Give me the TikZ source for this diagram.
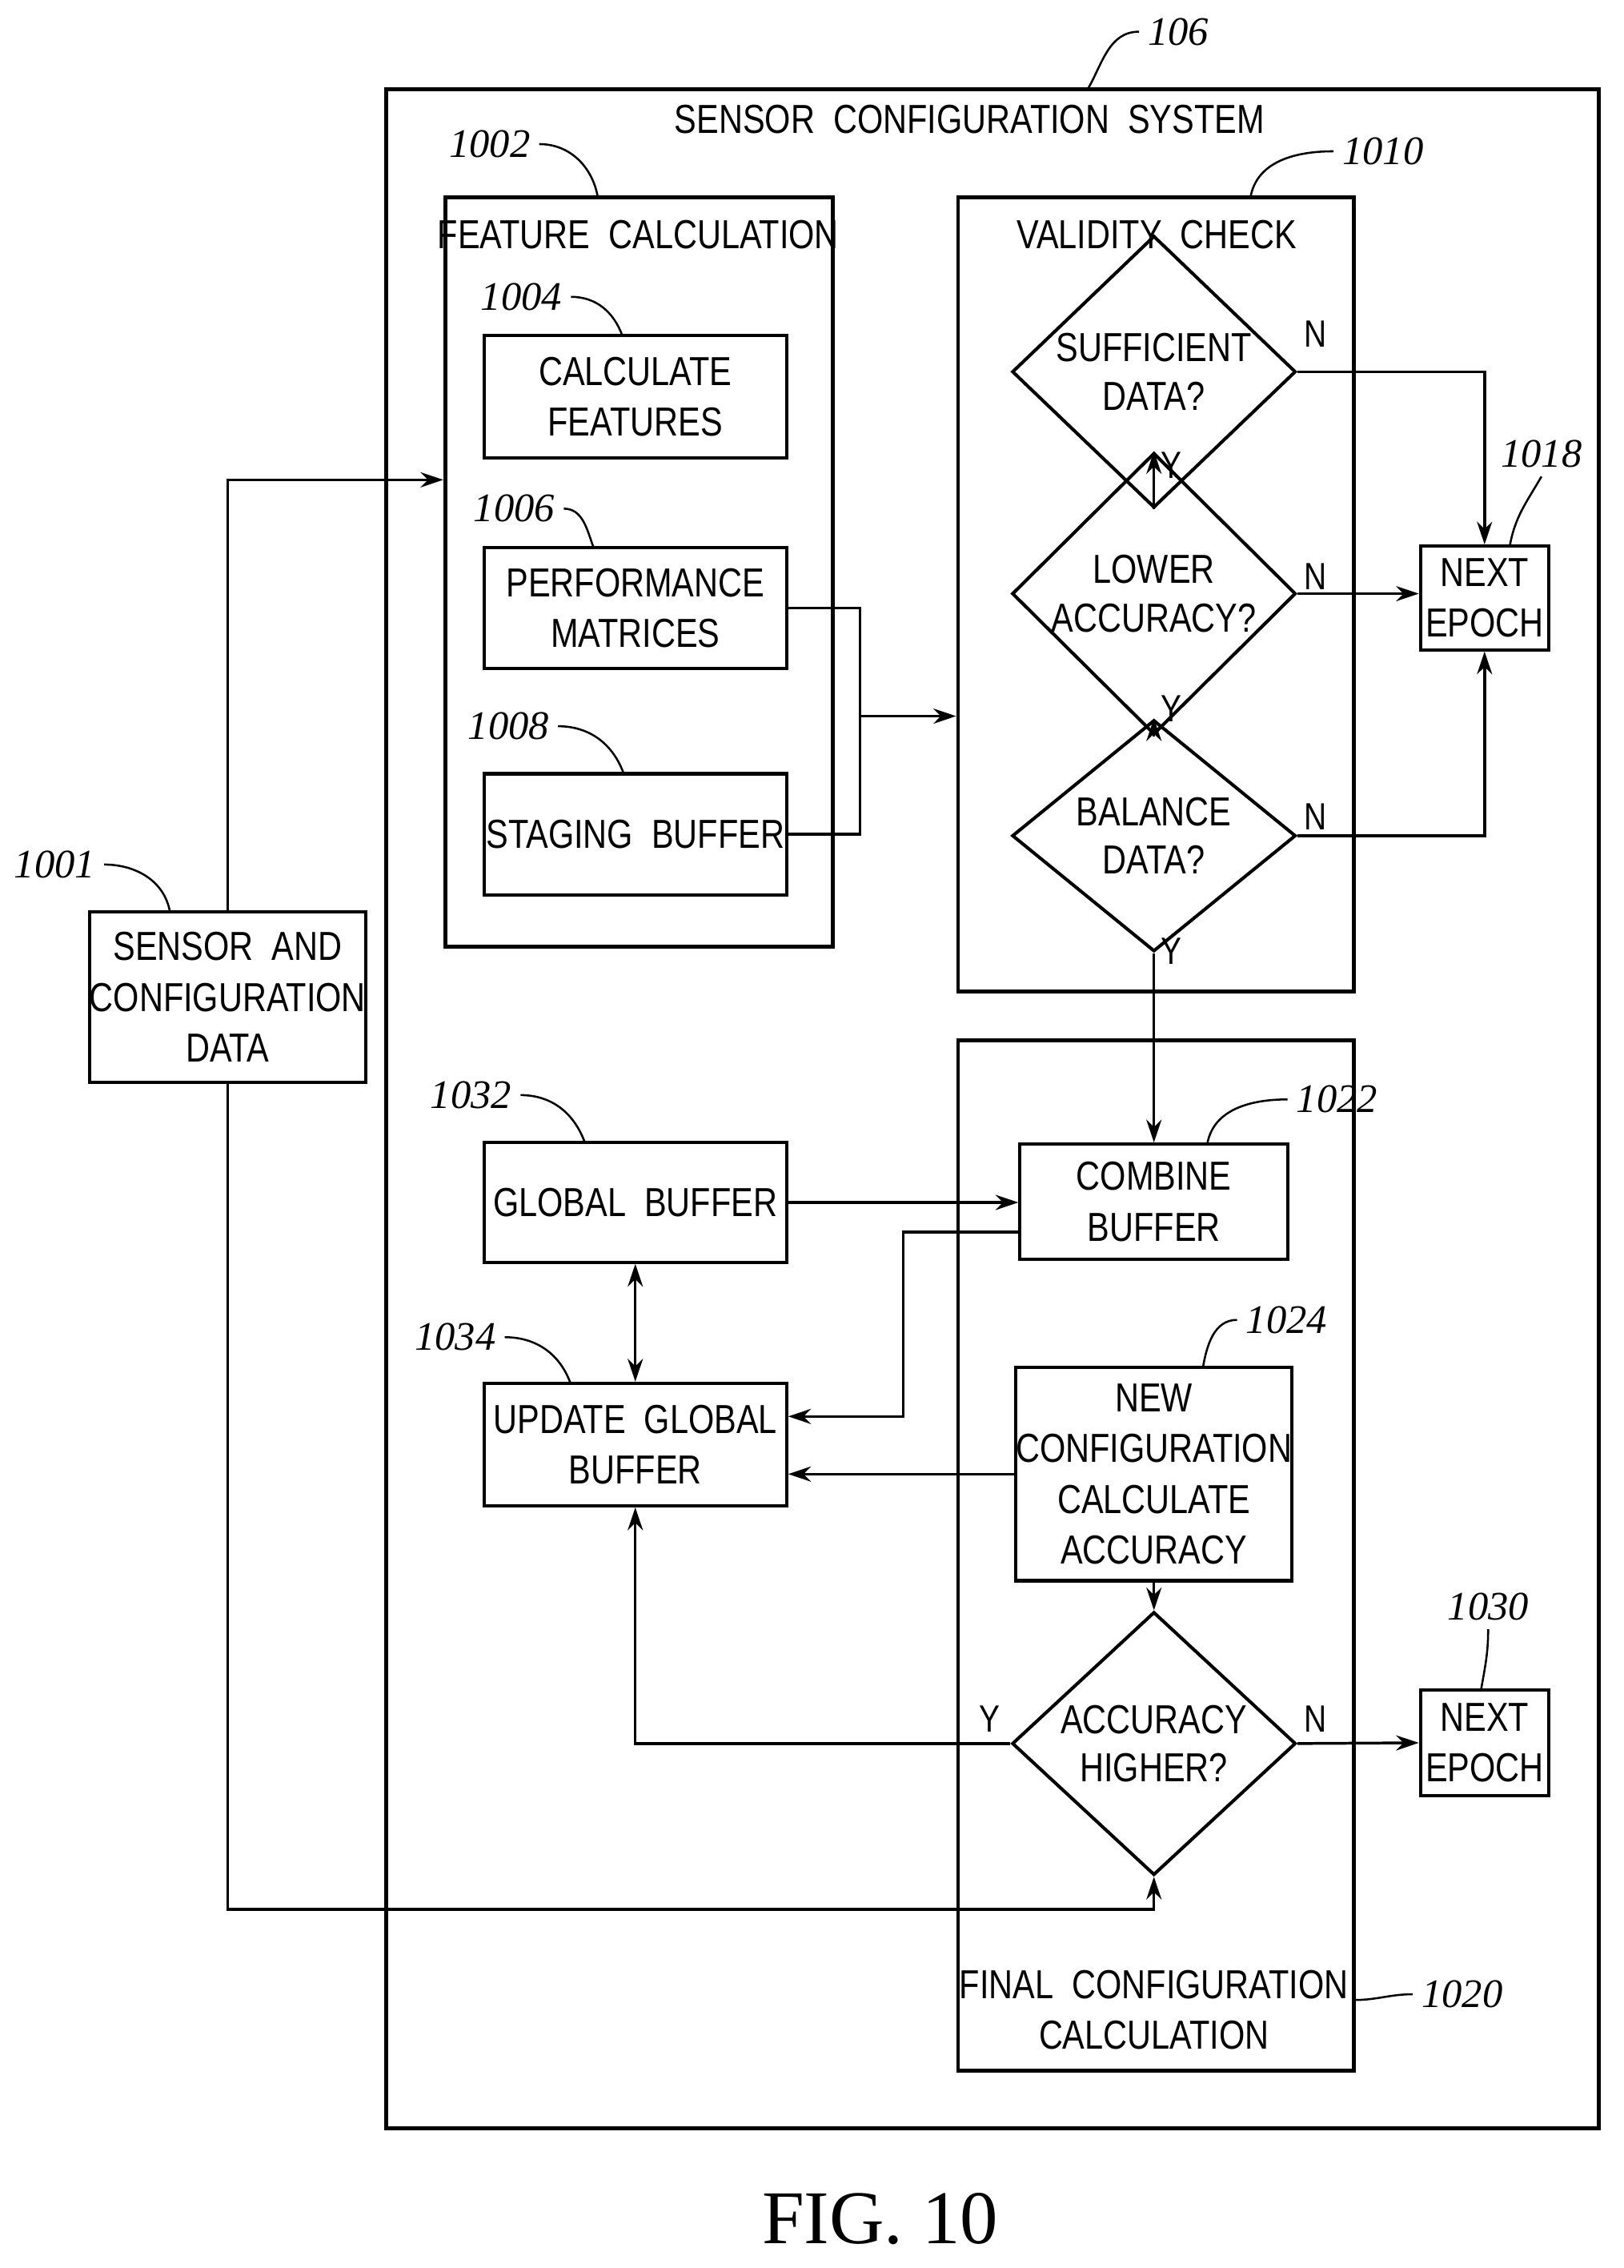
\documentclass[tikz,border=0pt]{standalone}
\usepackage{fontspec}
\setsansfont{Liberation Sans}[FakeStretch=0.82]
\setmainfont{Liberation Serif}
\usetikzlibrary{shapes.geometric,arrows.meta}

\tikzset{
  box/.style={draw, line width=1.3pt, align=center, inner sep=0pt,
    font=\sffamily\fontsize{16}{20}\selectfont},
  frame/.style={draw, line width=1.5pt, inner sep=0pt},
  dec/.style={diamond, draw, line width=1.3pt, align=center, inner sep=0pt,
    minimum width=3.94cm, minimum height=2.3cm,
    font=\sffamily\fontsize{16}{19}\selectfont},
  ttl/.style={font=\sffamily\fontsize{16}{20}\selectfont},
  ref/.style={font=\itshape\fontsize{16}{18}\selectfont},
  yn/.style={font=\sffamily\fontsize{15}{18}\selectfont},
  lead/.style={line width=0.8pt},
  flow/.style={line width=1.1pt, -{Stealth[length=9pt,width=6pt]}}
}

\begin{document}
\begin{tikzpicture}[x=0.02cm, y=-0.02cm]
    \useasboundingbox (0,0) rectangle (1127,1574);

    % Frames
    \node[frame, minimum width=16.84cm, minimum height=28.3cm] (sys) at (689,769.5) {};
    \node[ttl] at (673,83) {SENSOR\ \ CONFIGURATION\ \ SYSTEM};
    \node[frame, minimum width=5.38cm, minimum height=10.4cm] (feat) at (443.5,397) {};
    \node[ttl] at (443,163) {FEATURE\ \ CALCULATION};
    \node[frame, minimum width=5.5cm, minimum height=11.02cm] (valid) at (802.5,412.5) {};
    \node[ttl] at (803,163) {VALIDITY\ \ CHECK};
    \node[frame, minimum width=5.5cm, minimum height=14.3cm] (final) at (802.5,1079.5) {};
    \node[ttl, align=center] at (801,1395) {FINAL\ \ CONFIGURATION\\CALCULATION};

    % Boxes
    \node[box, minimum width=3.76cm, minimum height=2.36cm] (sensor) at (158,692) {SENSOR\ \ AND\\CONFIGURATION\\DATA};
    \node[box, minimum width=4.2cm, minimum height=1.7cm] (calc) at (441,275.5) {CALCULATE\\FEATURES};
    \node[box, minimum width=4.2cm, minimum height=1.68cm] (perf) at (441,422) {PERFORMANCE\\MATRICES};
    \node[box, minimum width=4.2cm, minimum height=1.68cm] (stage) at (441,579) {STAGING\ \ BUFFER};
    \node[box, minimum width=1.78cm, minimum height=1.44cm] (next1) at (1030.5,415) {NEXT\\EPOCH};
    \node[box, minimum width=3.72cm, minimum height=1.6cm] (comb) at (801,834) {COMBINE\\BUFFER};
    \node[box, minimum width=4.2cm, minimum height=1.66cm] (glob) at (441,834.5) {GLOBAL\ \ BUFFER};
    \node[box, minimum width=4.2cm, minimum height=1.7cm] (upd) at (441,1002.5) {UPDATE\ \ GLOBAL\\BUFFER};
    \node[box, minimum width=3.72cm, minimum height=2.96cm] (newc) at (801,1023) {NEW\\CONFIGURATION\\CALCULATE\\ACCURACY};
    \node[box, minimum width=1.78cm, minimum height=1.46cm] (next2) at (1030.5,1209.5) {NEXT\\EPOCH};

    % Decisions
    \node[dec] (suff) at (801,258) {SUFFICIENT\\DATA?};
    \node[dec] (low) at (801,412) {LOWER\\ACCURACY?};
    \node[dec] (bal) at (801,580) {BALANCE\\DATA?};
    \node[dec] (acc) at (801,1210) {ACCURACY\\HIGHER?};

    % Connectors
    \draw[flow] (sensor.north) |- (feat.west |- 0,333);
    \draw[flow] (sensor.south) |- (801,1325) -- (acc.south);
    \coordinate (join) at (597,497);
    \draw[line width=1.1pt] (perf.east) -| (join);
    \draw[line width=1.1pt] (stage.east) -| (join);
    \draw[flow] (join) -- (valid.west |- join);
    \draw[flow] (suff.east) -| (next1.north);
    \draw[flow] (low.east) -- (next1.west |- low.east);
    \draw[flow] (bal.east) -| (next1.south);
    \draw[flow] (suff.south) -- (low.north);
    \draw[flow] (low.south) -- (bal.north);
    \draw[flow] (bal.south) -- (comb.north);
    \draw[flow] (glob.east) -- (comb.west |- glob.east);
    \draw[flow] (comb.west |- 0,855) -- (627,855) |- (upd.east |- 0,983);
    \draw[flow] (newc.west |- 0,1023) -- (upd.east |- 0,1023);
    \draw[line width=1.1pt, {Stealth[length=9pt,width=6pt]}-{Stealth[length=9pt,width=6pt]}] (glob.south) -- (upd.north);
    \draw[flow] (newc.south) -- (acc.north);
    \draw[flow] (acc.west) -| (upd.south);
    \draw[flow] (acc.east) -- (next2.west);

    % Y / N
    \node[yn] at (913,232) {N};
    \node[yn] at (813,323) {Y};
    \node[yn] at (913,400) {N};
    \node[yn] at (813,492) {Y};
    \node[yn] at (913,567) {N};
    \node[yn] at (813,660) {Y};
    \node[yn] at (687,1193) {Y};
    \node[yn] at (913,1193) {N};

    % Reference numerals
    \node[ref] (r106) at (818,22) {106};
    \draw[lead] (r106.west) to[out=180,in=60] (755,62);
    \node[ref] (r1002) at (340,100) {1002};
    \draw[lead] (r1002.east) to[out=0,in=100] (415,137);
    \node[ref] (r1010) at (960,105) {1010};
    \draw[lead] (r1010.west) to[out=180,in=80] (868,137);
    \node[ref] (r1004) at (362,206) {1004};
    \draw[lead] (r1004.east) to[out=0,in=110] (432,233);
    \node[ref] (r1006) at (357,353) {1006};
    \draw[lead] (r1006.east) to[out=0,in=110] (412,380);
    \node[ref] (r1008) at (353,504) {1008};
    \draw[lead] (r1008.east) to[out=0,in=110] (433,537);
    \node[ref] (r1018) at (1070,315) {1018};
    \draw[lead] (r1018.south) to[out=240,in=80] (1048,379);
    \node[ref] (r1001) at (38,600) {1001};
    \draw[lead] (r1001.east) to[out=0,in=100] (118,633);
    \node[ref] (r1032) at (327,760) {1032};
    \draw[lead] (r1032.east) to[out=0,in=110] (406,793);
    \node[ref] (r1022) at (928,763) {1022};
    \draw[lead] (r1022.west) to[out=180,in=80] (838,794);
    \node[ref] (r1034) at (316,928) {1034};
    \draw[lead] (r1034.east) to[out=0,in=110] (396,960);
    \node[ref] (r1024) at (893,916) {1024};
    \draw[lead] (r1024.west) to[out=180,in=80] (835,949);
    \node[ref] (r1030) at (1033,1115) {1030};
    \draw[lead] (r1030.south) to[out=270,in=80] (1028,1173);
    \node[ref] (r1020) at (1015,1384) {1020};
    \draw[lead] (r1020.west) to[out=180,in=0] (940,1388);

    \node[font=\rmfamily\fontsize{30}{34}\selectfont] (fig) at (611,1540) {FIG. 10};
\end{tikzpicture}
\end{document}
